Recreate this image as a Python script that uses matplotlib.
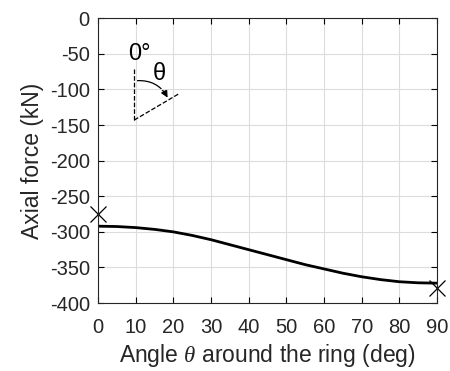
import numpy as np
import matplotlib.pyplot as plt
from matplotlib.patches import FancyArrowPatch

plt.rcParams['font.family'] = ['Liberation Sans', 'DejaVu Sans']
plt.rcParams['mathtext.fontset'] = 'custom'
plt.rcParams['mathtext.it'] = 'Liberation Serif:italic'
plt.rcParams['axes.unicode_minus'] = False

# axial force along the ring
angle = [0, 5, 10, 15, 20, 25, 30, 35, 40, 45, 50, 55, 60, 65, 70, 75, 80, 85, 90]
force = [-292, -292.5, -294, -296.5, -300, -305, -311, -318, -325, -332, -339,
         -346, -352, -358, -363, -367, -370, -371.5, -372]

# end-point reference values
ref_angle = [0, 90]
ref_force = [-275, -379]

fig = plt.figure(figsize=(4.5, 3.71), dpi=100)
ax = fig.add_axes([0.218, 0.183, 0.753, 0.768])

ax.plot(angle, force, color='black', linewidth=2)
ax.plot(ref_angle, ref_force, 'x', color='black', markersize=11, markeredgewidth=0.9,
        clip_on=False)

# angle sketch
ax.plot([9.6, 9.6], [-72, -143], '--', color='black', linewidth=0.9)
ax.plot([9.6, 21.5], [-143, -106], '--', color='black', linewidth=0.9)
arc = FancyArrowPatch((9.6, -88), (18.8, -115), connectionstyle='arc3,rad=-0.35',
                      arrowstyle='-|>', mutation_scale=10, color='black', linewidth=0.9)
ax.add_patch(arc)
ax.text(11.0, -50, '0°', fontsize=17, ha='center', va='center')
ax.text(16.2, -79, 'θ', fontsize=17, ha='center', va='center')

ax.set_xlim(0, 90)
ax.set_ylim(-400, 0)
ax.set_xticks(np.arange(0, 91, 10))
ax.set_yticks(np.arange(-400, 1, 50))
ax.grid(True, color='#dcdcdc', linewidth=0.8)
ax.tick_params(direction='in', top=True, right=True, labelsize=14.5, length=4,
               width=0.8, labelcolor='#262626', pad=6)
ax.tick_params(axis='x', pad=11)
for s in ax.spines.values():
    s.set_linewidth(0.8)
    s.set_color('#262626')

ax.set_xlabel(r'Angle $\theta$ around the ring (deg)', fontsize=16.5, color='#262626',
              labelpad=3)
ax.set_ylabel('Axial force (kN)', fontsize=16.5, color='#262626')

fig.savefig('out.png', dpi=100)
